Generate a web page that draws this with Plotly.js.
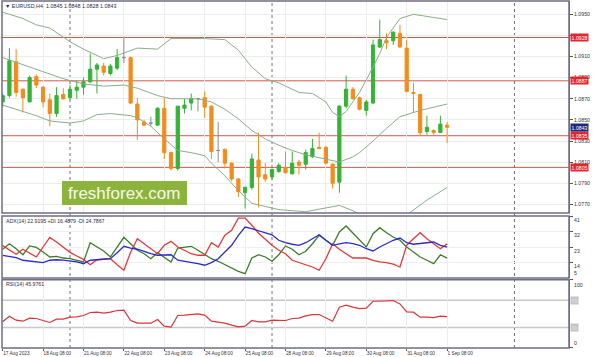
<!DOCTYPE html>
<html><head><meta charset="utf-8">
<script src="https://cdn.plot.ly/plotly-3.0.1.min.js"></script>
<style>html,body{margin:0;padding:0;background:#fff}#chart{width:594px;height:357px}</style>
</head><body><div id="chart"></div>
<script>
const symbol = "EURUSD,H4";
const tickIdx = [0,6,12,18,24,30,36,42,48,54,60,66];
const tickText = ["17 Aug 2023","18 Aug 08:00","21 Aug 08:00","22 Aug 08:00","23 Aug 08:00","24 Aug 08:00","25 Aug 08:00","28 Aug 08:00","29 Aug 08:00","30 Aug 08:00","31 Aug 08:00","1 Sep 08:00"];
const openP  = [1.0867,1.0873,1.0905,1.0879,1.0867,1.0891,1.0881,1.0869,1.0856,1.0874,1.0871,1.0878,1.0881,1.0886,1.0898,1.0901,1.0894,1.0899,1.0909,1.0909,1.0865,1.0848,1.0847,1.0845,1.0861,1.0819,1.0804,1.0861,1.0866,1.0870,1.0871,1.0863,1.0821,1.0822,1.0809,1.0794,1.0781,1.0786,1.0812,1.0798,1.0796,1.0801,1.0805,1.0799,1.0810,1.0808,1.0815,1.0824,1.0824,1.0808,1.0791,1.0863,1.0879,1.0871,1.0859,1.0866,1.0919,1.0925,1.0925,1.0932,1.0918,1.0876,1.0874,1.0839,1.0840,1.0838,1.0845];
const highP  = [1.0875,1.0918,1.0917,1.0880,1.0892,1.0893,1.0882,1.0875,1.0881,1.0880,1.0883,1.0887,1.0890,1.0913,1.0904,1.0904,1.0903,1.0917,1.0929,1.0910,1.0871,1.0850,1.0853,1.0862,1.0871,1.0820,1.0863,1.0870,1.0875,1.0871,1.0877,1.0864,1.0848,1.0823,1.0810,1.0795,1.0787,1.0818,1.0838,1.0809,1.0804,1.0809,1.0820,1.0820,1.0812,1.0822,1.0832,1.0838,1.0825,1.0809,1.0864,1.0892,1.0881,1.0872,1.0869,1.0926,1.0945,1.0932,1.0934,1.0940,1.0926,1.0885,1.0875,1.0854,1.0841,1.0854,1.0848];
const lowP   = [1.0862,1.0871,1.0872,1.0857,1.0867,1.0880,1.0862,1.0844,1.0853,1.0869,1.0869,1.0870,1.0874,1.0885,1.0875,1.0892,1.0892,1.0897,1.0904,1.0865,1.0831,1.0844,1.0844,1.0845,1.0813,1.0802,1.0802,1.0856,1.0859,1.0858,1.0852,1.0813,1.0810,1.0804,1.0792,1.0777,1.0766,1.0784,1.0767,1.0791,1.0793,1.0800,1.0799,1.0798,1.0798,1.0803,1.0814,1.0822,1.0808,1.0785,1.0781,1.0861,1.0869,1.0859,1.0854,1.0865,1.0918,1.0917,1.0921,1.0918,1.0876,1.0857,1.0835,1.0836,1.0836,1.0838,1.0828];
const closeP = [1.0873,1.0906,1.0876,1.0871,1.0890,1.0883,1.0867,1.0856,1.0873,1.0870,1.0879,1.0881,1.0886,1.0898,1.0902,1.0895,1.0901,1.0909,1.0909,1.0866,1.0850,1.0845,1.0847,1.0861,1.0819,1.0804,1.0863,1.0864,1.0870,1.0870,1.0862,1.0820,1.0821,1.0809,1.0794,1.0782,1.0786,1.0813,1.0796,1.0794,1.0803,1.0807,1.0800,1.0809,1.0807,1.0819,1.0823,1.0823,1.0809,1.0790,1.0863,1.0879,1.0870,1.0860,1.0867,1.0921,1.0926,1.0923,1.0933,1.0919,1.0877,1.0875,1.0838,1.0843,1.0838,1.0846,1.0843];

const bbUpperIdx = [0,3,5,7,10,12,15,17,20,23,24,25,30,33,35,37,39,41,42,44,46,48,49,50,51,53,55,56,57,59,61,63,66];
const bbUpper    = [1.0952,1.0946,1.0940,1.0937,1.0924,1.0917,1.0908,1.0911,1.0918,1.0917,1.0922,1.0927,1.0927,1.0926,1.0916,1.0900,1.0889,1.0885,1.0882,1.0876,1.0875,1.0867,1.0857,1.0853,1.0858,1.0876,1.0900,1.0913,1.0928,1.0946,1.0950,1.0948,1.0945];
const bbMiddleIdx = [0,4,9,12,15,18,20,23,25,29,31,33,35,37,39,41,43,45,47,50,52,53,55,57,59,62,64,66];
const bbMiddle    = [1.0909,1.0900,1.0889,1.0884,1.0882,1.0883,1.0880,1.0873,1.0870,1.0870,1.0867,1.0860,1.0851,1.0840,1.0832,1.0826,1.0821,1.0817,1.0814,1.0810,1.0815,1.0819,1.0830,1.0842,1.0853,1.0859,1.0862,1.0865];
const bbLowerIdx = [0,3,5,7,10,12,14,16,19,20,22,24,26,28,30,31,33,35,37,39,41,45,48,50,52,54,56,58,60,63,66];
const bbLower    = [1.0864,1.0858,1.0854,1.0849,1.0847,1.0849,1.0855,1.0856,1.0854,1.0852,1.0844,1.0832,1.0821,1.0819,1.0816,1.0809,1.0797,1.0783,1.0771,1.0768,1.0765,1.0763,1.0767,1.0769,1.0764,1.0757,1.0748,1.0750,1.0760,1.0774,1.0786];

const adx     = [18.2,17.7,16.8,15.3,14.7,14.3,13.9,15.3,15.6,15.4,15.0,14.3,13.3,15.3,15.6,15.8,16.2,19.7,23.4,22.4,21.7,20.5,19.1,18.2,18.2,18.5,15.3,14.7,14.3,13.3,12.4,13.9,16.2,20.1,24.0,29.8,34.6,33.6,32.5,31.3,30.1,26.9,25.5,24.6,24.0,25.5,27.8,30.1,26.9,24.0,24.8,25.5,25.0,24.0,22.0,20.7,23.0,24.9,26.9,28.2,25.5,24.6,25.0,25.5,25.9,24.0,22.9];
const plusDI  = [21.7,24.9,22.0,18.5,23.6,22.8,20.1,17.2,17.5,16.6,16.2,15.4,14.3,25.5,23.0,20.7,17.2,23.0,28.6,24.9,21.1,19.1,16.2,19.7,17.2,14.3,22.4,23.0,23.4,21.1,18.5,16.2,14.7,12.7,10.8,8.9,7.5,16.6,18.5,17.2,14.7,18.5,23.6,21.7,18.5,20.5,24.9,29.8,26.9,24.0,31.7,35.2,31.1,26.9,23.0,30.7,34.2,31.3,28.8,26.9,23.0,20.1,17.2,15.3,13.3,18.5,16.5];
const minusDI = [23.8,21.5,18.8,21.7,19.3,17.2,23.0,28.6,25.9,23.0,19.9,17.8,15.8,12.7,15.6,15.9,16.2,12.7,9.5,20.0,27.8,24.9,22.0,19.1,24.0,26.3,23.0,21.1,19.1,18.2,18.2,25.5,23.0,29.8,32.7,39.8,39.8,35.6,31.0,27.5,24.0,21.1,19.1,15.3,13.9,12.7,11.4,9.5,16.2,24.9,21.7,19.1,16.6,16.6,16.6,15.3,14.3,13.9,13.0,11.4,24.0,27.8,31.3,27.8,24.9,22.0,24.8];
const rsi     = [38.5,46.6,40.8,39.3,43.7,43.2,40.3,37.4,42.2,42.2,45.1,45.6,47.6,52.0,52.5,51.0,52.5,54.9,55.4,40.3,36.4,36.4,36.4,41.7,32.0,30.6,47.6,48.1,49.0,50.0,48.1,39.3,37.9,36.4,33.5,31.1,32.0,40.3,38.4,38.4,40.8,40.8,40.3,43.2,43.7,47.1,49.0,49.0,44.2,39.3,59.8,62.7,59.8,57.8,58.3,68.5,68.5,68.5,69.5,64.6,53.0,52.5,45.1,45.1,44.6,46.6,46.0];

const priceTicks = [1.0950,1.0930,1.0910,1.0890,1.0870,1.0850,1.0830,1.0810,1.0790,1.0770];
const levels = [1.0928,1.0887,1.0835,1.0805];
const lastPrice = 1.0843;
const adxTicks = [41,32,23,14];
const rsiLevels = [70,30];
const weekSeparators = [10,40,76];
const adxHeader = "ADX(14) 22.9195 +DI 16.4879 -DI 24.7867";
const rsiHeader = "RSI(14) 45.9761";
const watermark = "freshforex.com";

const FONT = "Liberation Sans, Arial, sans-serif";
const xs = openP.map((_, i) => i);
const isDoji = xs.map(i => openP[i] === closeP[i]);
function pick(arr, want) { return xs.filter(i => isDoji[i] === want).map(i => arr[i]); }

// price tick labels that sit fully under a level box are left blank (as in the reference)
const priceTickText = priceTicks.map(t => levels.some(l => Math.abs(l - t) < 0.00025) ? '' : t.toFixed(4));

const GREEN = "#36b236", ORANGE = "#f28c1c", GREY = "#8c8c8c";
const traces = [
  {type:'candlestick', x: pick(xs,false), open: pick(openP,false), high: pick(highP,false), low: pick(lowP,false), close: pick(closeP,false),
   increasing:{line:{color:GREEN,width:1}, fillcolor:GREEN}, decreasing:{line:{color:ORANGE,width:1}, fillcolor:ORANGE},
   xaxis:'x', yaxis:'y', hoverinfo:'skip', showlegend:false},
  {type:'candlestick', x: pick(xs,true), open: pick(openP,true), high: pick(highP,true), low: pick(lowP,true), close: pick(closeP,true),
   increasing:{line:{color:GREY,width:1}, fillcolor:GREY}, decreasing:{line:{color:GREY,width:1}, fillcolor:GREY},
   xaxis:'x', yaxis:'y', hoverinfo:'skip', showlegend:false},
  {type:'scatter', mode:'lines', x: bbUpperIdx, y: bbUpper, line:{color:'#8aae8a', width:1}, xaxis:'x', yaxis:'y', hoverinfo:'skip', showlegend:false},
  {type:'scatter', mode:'lines', x: bbMiddleIdx, y: bbMiddle, line:{color:'#8aae8a', width:1}, xaxis:'x', yaxis:'y', hoverinfo:'skip', showlegend:false},
  {type:'scatter', mode:'lines', x: bbLowerIdx, y: bbLower, line:{color:'#8aae8a', width:1}, xaxis:'x', yaxis:'y', hoverinfo:'skip', showlegend:false},
  {type:'scatter', mode:'lines', x: xs, y: plusDI, line:{color:'#3d7d2a', width:1.3}, xaxis:'x', yaxis:'y2', hoverinfo:'skip', showlegend:false},
  {type:'scatter', mode:'lines', x: xs, y: minusDI, line:{color:'#e2393b', width:1.3}, xaxis:'x', yaxis:'y2', hoverinfo:'skip', showlegend:false},
  {type:'scatter', mode:'lines', x: xs, y: adx, line:{color:'#2b2bc8', width:1.3}, xaxis:'x', yaxis:'y2', hoverinfo:'skip', showlegend:false},
  {type:'scatter', mode:'lines', x: xs, y: rsi, line:{color:'#d8353c', width:1.2}, xaxis:'x', yaxis:'y3', hoverinfo:'skip', showlegend:false}
];

const FRAME = '#6e6e82';
const shapes = [];
weekSeparators.forEach(s => shapes.push({type:'line', xref:'x', yref:'paper', x0:s, x1:s, y0:0, y1:1, line:{color:'#707070', width:1, dash:'dot'}, layer:'below'}));
levels.forEach(l => shapes.push({type:'line', xref:'paper', yref:'y', x0:0, x1:1, y0:l, y1:l, line:{color:'#d0584a', width:1}, layer:'below'}));
rsiLevels.forEach(l => shapes.push({type:'line', xref:'paper', yref:'y3', x0:0, x1:1, y0:l, y1:l, line:{color:'#c8c8c8', width:1.5}, layer:'below'}));
['y','y2','y3'].forEach(a => shapes.push({type:'rect', xref:'paper', yref:a+' domain', x0:0, x1:1, y0:0, y1:1, line:{color:FRAME, width:1.5}, fillcolor:'rgba(0,0,0,0)', layer:'above'}));
shapes.push({type:'rect', xref:'paper', yref:'y domain', x0:0.1058, x1:0.3263, y0:0.0377, y1:0.151, line:{width:0}, fillcolor:'#8cb43c', layer:'above'});

const last = openP.length - 1;
const annotations = [
  {xref:'paper', yref:'y domain', x:0.002, y:0.976, xanchor:'left', yanchor:'middle', showarrow:false,
   text:'▼ ' + symbol + '  ' + [openP[last],highP[last],lowP[last],closeP[last]].map(v=>v.toFixed(4)).join(' '),
   font:{family:FONT, size:5.4, color:'#2a2a44'}},
  {xref:'paper', yref:'y2 domain', x:0.0035, y:0.92, xanchor:'left', yanchor:'middle', showarrow:false, text:adxHeader, font:{family:FONT, size:5.2, color:'#2a2a44'}},
  {xref:'paper', yref:'y3 domain', x:0.0035, y:0.938, xanchor:'left', yanchor:'middle', showarrow:false, text:rsiHeader, font:{family:FONT, size:5.2, color:'#2a2a44'}},
  {xref:'paper', yref:'y domain', x:0.216, y:0.094, xanchor:'center', yanchor:'middle', showarrow:false, text:watermark, font:{family:FONT, size:17, color:'#f6f9ee'}},
  {xref:'paper', yref:'y2', x:1, y:5, xanchor:'left', yanchor:'bottom', xshift:3, showarrow:false, text:'5', font:{family:FONT, size:5.2, color:'#333'}},
  {xref:'paper', yref:'y3', x:1, y:100, xanchor:'left', yanchor:'top', xshift:3, showarrow:false, text:'100', font:{family:FONT, size:5.2, color:'#333'}},
  {xref:'paper', yref:'y3', x:1, y:0, xanchor:'left', yanchor:'bottom', xshift:3, showarrow:false, text:'0', font:{family:FONT, size:5.2, color:'#333'}}
];
levels.forEach(l => annotations.push({xref:'paper', yref:'y', x:1, y:l, xanchor:'left', yanchor:'middle', xshift:1, showarrow:false,
  text:l.toFixed(4), bgcolor:'#e3262c', borderpad:0.6, font:{family:FONT, size:5.2, color:'#ffffff'}}));
annotations.push({xref:'paper', yref:'y', x:1, y:lastPrice, xanchor:'left', yanchor:'middle', xshift:1, showarrow:false,
  text:lastPrice.toFixed(4), bgcolor:'#1f2a7c', borderpad:0.6, font:{family:FONT, size:5.2, color:'#ffffff'}});
rsiLevels.forEach(l => annotations.push({xref:'paper', yref:'y3', x:1, y:l, xanchor:'left', yanchor:'middle', xshift:1, showarrow:false,
  text:String(l), bgcolor:'#c4c4c4', borderpad:0.5, font:{family:FONT, size:5, color:'#e4e4e4'}}));

const axCommon = {side:'right', anchor:'x', ticks:'outside', ticklen:3, tickcolor:'#555', zeroline:false, fixedrange:true,
  tickfont:{family:FONT, size:5.2, color:'#333'}, showline:true, linecolor:FRAME, linewidth:1};
const layout = {
  width:594, height:357, margin:{l:2, r:25, t:1, b:9}, paper_bgcolor:'#ffffff', plot_bgcolor:'#ffffff', showlegend:false,
  boxgap:0.32,
  xaxis:{domain:[0,1], range:[-0.1,84.1], anchor:'y3', tickvals:tickIdx, ticktext:tickText, ticklabelposition:'outside right',
    ticks:'outside', ticklen:2, tickcolor:'#555', tickfont:{family:FONT, size:4.7, color:'#333'}, showgrid:true, gridcolor:'#ececec',
    zeroline:false, showline:false, rangeslider:{visible:false}, fixedrange:true},
  yaxis:Object.assign({}, axCommon, {domain:[0.38905,1], range:[1.07618,1.09626], tickvals:priceTicks, ticktext:priceTickText, showgrid:true, gridcolor:'#ececec'}),
  yaxis2:Object.assign({}, axCommon, {domain:[0.20173,0.3804], range:[5,41], tickvals:adxTicks, ticklabelshift:4, showgrid:true, gridcolor:'#f0f0f0'}),
  yaxis3:Object.assign({}, axCommon, {domain:[0,0.19669], range:[0,100], tickvals:[100,0], showticklabels:false, showgrid:false}),
  shapes:shapes, annotations:annotations
};
Plotly.newPlot('chart', traces, layout, {staticPlot:true, displayModeBar:false});
</script>
</body></html>
